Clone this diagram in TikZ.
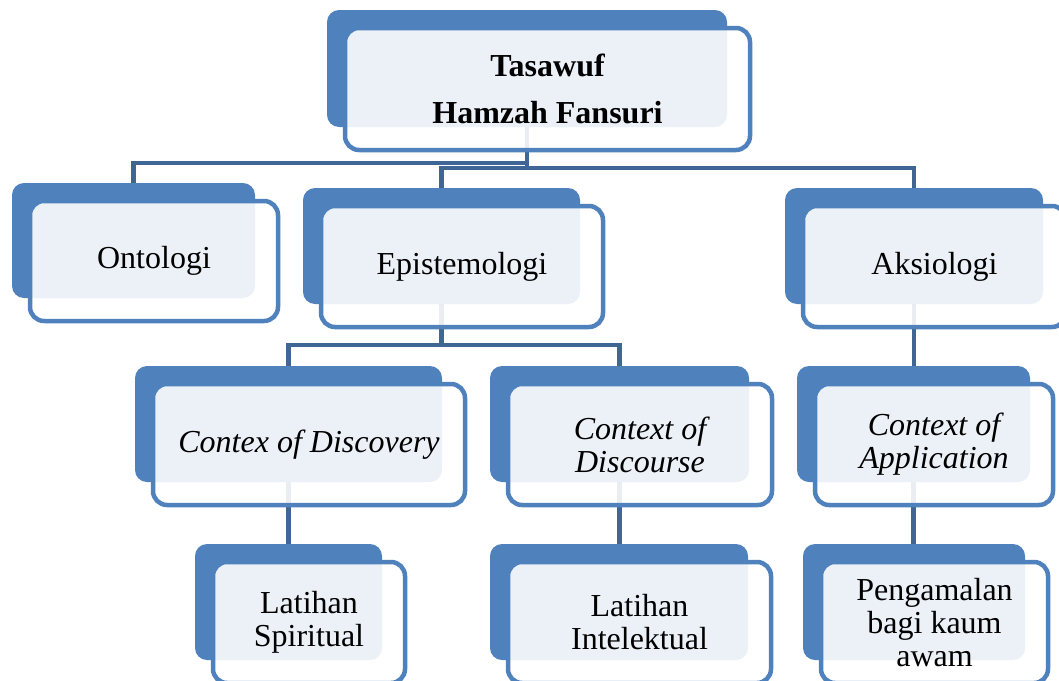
\documentclass[tikz,border=0pt]{standalone}
\usepackage{fontspec}
\setmainfont{Liberation Serif}
\usepackage{xcolor}
\usepackage{tikz}

\definecolor{boxblue}{RGB}{79,129,189}
\definecolor{linkblue}{RGB}{64,102,150}

\tikzset{
  backbox/.style={rectangle, rounded corners=12pt, fill=boxblue, inner sep=0pt},
  frontbox/.style={rectangle, rounded corners=14pt, draw=boxblue, line width=4.5pt,
    fill=white, fill opacity=0.89, text opacity=1, inner sep=0pt, align=center,
    font=\fontsize{32}{33}\selectfont},
  link/.style={draw=linkblue, line width=4.5pt}
}

\begin{document}
\begin{tikzpicture}[x=1pt,y=-1pt]
\useasboundingbox (0,0) rectangle (1059,680);
\clip (0,0) rectangle (1059,680);

% back boxes
\node[backbox, minimum width=400pt, minimum height=117pt] (top-b) at (527,68.5) {};
\node[backbox, minimum width=243pt, minimum height=115pt] (onto-b) at (133.5,240.5) {};
\node[backbox, minimum width=277pt, minimum height=116pt] (epis-b) at (441.5,246) {};
\node[backbox, minimum width=258pt, minimum height=116pt] (aksi-b) at (914,246) {};
\node[backbox, minimum width=307pt, minimum height=116pt] (disc-b) at (288.5,424) {};
\node[backbox, minimum width=259pt, minimum height=116pt] (dcrs-b) at (619.5,424) {};
\node[backbox, minimum width=233pt, minimum height=116pt] (appl-b) at (913.5,424) {};
\node[backbox, minimum width=187pt, minimum height=116pt] (spir-b) at (288.5,602) {};
\node[backbox, minimum width=258pt, minimum height=116pt] (intl-b) at (619,602) {};
\node[backbox, minimum width=222pt, minimum height=116pt] (awam-b) at (914,602) {};

% connectors
\draw[link] (top-b.south) -- ++(0,36) -| (onto-b.north);
\draw[link] (top-b.south) -- ++(0,41) -| (epis-b.north);
\draw[link] (top-b.south) -- ++(0,41) -| (aksi-b.north);
\draw[link] (epis-b.south) -- ++(0,41) -| (disc-b.north);
\draw[link] (epis-b.south) -- ++(0,41) -| (dcrs-b.north);
\draw[link] (aksi-b.south) -- (aksi-b.south |- appl-b.north);
\draw[link] (disc-b.south) -- (disc-b.south |- spir-b.north);
\draw[link] (dcrs-b.south) -- (dcrs-b.south |- intl-b.north);
\draw[link] (appl-b.south) -- (appl-b.south |- awam-b.north);

% front boxes
\node[frontbox, minimum width=405pt, minimum height=122pt, font=\fontsize{32}{33}\selectfont\bfseries]
  (top) at ([shift={(20.5,20.5)}]top-b.center) {Tasawuf\\[14pt]Hamzah Fansuri};
\node[frontbox, minimum width=248pt, minimum height=120pt] (onto) at ([shift={(20.5,20.5)}]onto-b.center) {Ontologi};
\node[frontbox, minimum width=282pt, minimum height=121pt] (epis) at ([shift={(20.5,20.5)}]epis-b.center) {Epistemologi};
\node[frontbox, minimum width=263pt, minimum height=121pt] (aksi) at ([shift={(20.5,20.5)}]aksi-b.center) {Aksiologi};
\node[frontbox, minimum width=312pt, minimum height=121pt] (disc) at ([shift={(20.5,20.5)}]disc-b.center) {\itshape Contex of Discovery};
\node[frontbox, minimum width=264pt, minimum height=121pt] (dcrs) at ([shift={(20.5,20.5)}]dcrs-b.center) {\itshape Context of\\\itshape Discourse};
\node[frontbox, minimum width=238pt, minimum height=121pt] (appl) at ([shift={(20.5,20.5)}]appl-b.center) {\itshape Context of\\\itshape Application};
\node[frontbox, minimum width=192pt, minimum height=121pt] (spir) at ([shift={(20.5,20.5)}]spir-b.center) {Latihan\\Spiritual};
\node[frontbox, minimum width=263pt, minimum height=121pt] (intl) at ([shift={(20.5,20.5)}]intl-b.center) {Latihan\\Intelektual};
\node[frontbox, minimum width=227pt, minimum height=121pt] (awam) at ([shift={(20.5,20.5)}]awam-b.center) {Pengamalan\\bagi kaum\\awam};

\end{tikzpicture}
\end{document}
